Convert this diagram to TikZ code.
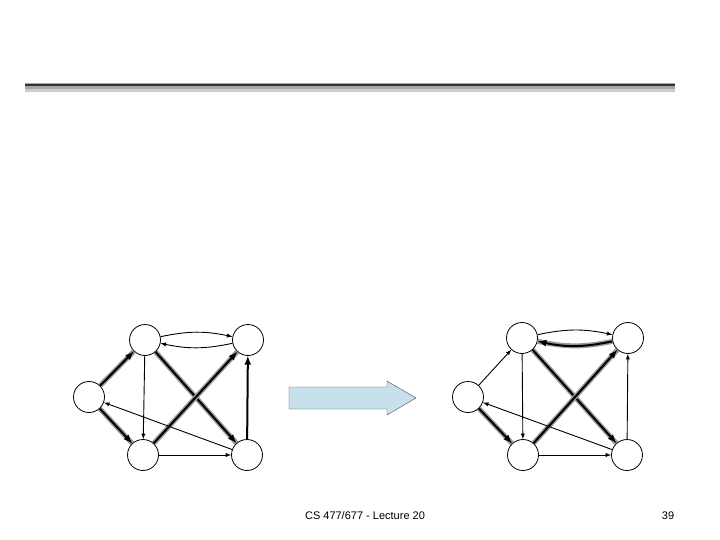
\documentclass[tikz,border=0pt]{standalone}
\usepackage{fontspec}
\setmainfont{Liberation Sans}
\begin{document}
\begin{tikzpicture}[x=1pt,y=-1pt,
  vert/.style={circle,draw,thick,minimum size=31pt,inner sep=0pt,fill=white},
  ed/.style={-latex,line width=0.9pt},
  hl/.style={line width=2pt,-latex,preaction={draw=gray!80,line width=5pt,-}},
  thk/.style={line width=2pt,-latex}]
\useasboundingbox (0,0) rectangle (720,540);
\fill[gray!40] (25,88) rectangle (675,92);
\fill[gray!70] (25,83) rectangle (675,89);
\draw[line width=2pt,black!80] (25,85.5) -- (675,85.5);
% left graph
\node[vert] (a1) at (89,397) {};
\node[vert] (b1) at (145,340) {};
\node[vert] (c1) at (248,340) {};
\node[vert] (d1) at (143,455) {};
\node[vert] (e1) at (247,455) {};
\draw[ed] (b1) to[bend left=12] (c1);
\draw[ed] (c1) to[bend left=12] (b1);
\draw[hl] (a1) -- (b1);
\draw[hl] (a1) -- (d1);
\draw[ed] (b1) -- (d1);
\draw[hl] (b1) -- (e1);
\draw[hl] (d1) -- (c1);
\draw[ed] (e1) -- (a1);
\draw[ed] (d1) -- (e1);
\draw[thk] (e1) -- (c1);
% arrow
\node[coordinate] (s) at (289,398) {};
\draw[fill=cyan!15!gray!25!white,fill=cyan!20!white!85!gray, draw=black!70]
  (289,387) -- (387,387) -- (387,381) -- (416,398) -- (387,415) -- (387,409) -- (289,409) -- cycle;
% right graph
\node[vert] (a2) at (468,397) {};
\node[vert] (b2) at (522,338) {};
\node[vert] (c2) at (628,338) {};
\node[vert] (d2) at (523,455) {};
\node[vert] (e2) at (627,455) {};
\draw[ed] (b2) to[bend left=12] (c2);
\draw[hl] (c2) to[bend left=12] (b2);
\draw[ed] (a2) -- (b2);
\draw[hl] (a2) -- (d2);
\draw[ed] (b2) -- (d2);
\draw[hl] (b2) -- (e2);
\draw[hl] (d2) -- (c2);
\draw[ed] (e2) -- (a2);
\draw[ed] (d2) -- (e2);
\draw[ed] (e2) -- (c2);
\node[font=\fontsize{11}{13}\selectfont] (f1) at (365,516) {CS 477/677 - Lecture 20};
\node[font=\fontsize{11}{13}\selectfont] (f2) at (668,516) {39};
\end{tikzpicture}
\end{document}
